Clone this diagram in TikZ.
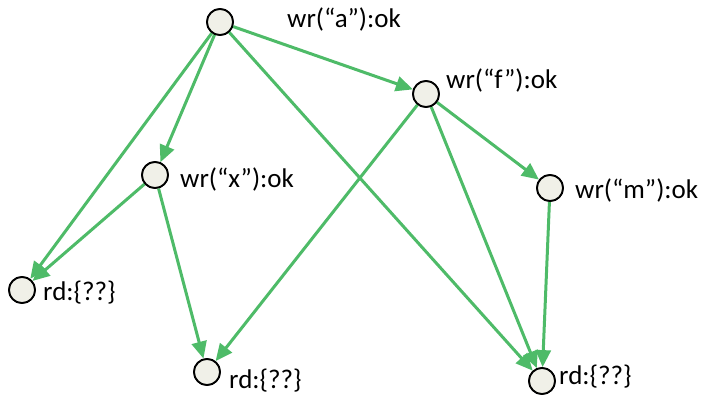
\documentclass[tikz,border=0pt]{standalone}
\usepackage{fontspec}
\setmainfont{Carlito}
\usetikzlibrary{arrows.meta}
\definecolor{edgegreen}{RGB}{78,187,104}
\definecolor{nodefill}{RGB}{240,240,232}
\tikzset{
  ev/.style={circle, draw=black, line width=1.8pt, fill=nodefill, minimum size=26pt, inner sep=0pt},
  lbl/.style={anchor=west, inner sep=0pt, font=\fontsize{27}{29}\selectfont},
  dep/.style={draw=edgegreen, line width=3pt, -{Triangle[length=17pt,width=15pt]}, shorten >=0pt},
}
\begin{document}
\begin{tikzpicture}[x=1pt,y=-1pt]
\useasboundingbox (0,0) rectangle (706,396);
\node[ev] (a) at (220,22) {};
\node[ev] (f) at (426,94) {};
\node[ev] (x) at (155,175) {};
\node[ev] (m) at (550,188) {};
\node[ev] (r1) at (22,290) {};
\node[ev] (r2) at (207,372) {};
\node[ev] (r3) at (542,381) {};
\node[lbl] (la) at (287,19) {wr(“a”):ok};
\node[lbl] (lf) at (446,80) {wr(“f”):ok};
\node[lbl] (lx) at (180,179) {wr(“x”):ok};
\node[lbl] (lm) at (575,190) {wr(“m”):ok};
\node[lbl] (l1) at (43,293) {rd:\{??\}};
\node[lbl] (l2) at (229,381) {rd:\{??\}};
\node[lbl] (l3) at (559,377) {rd:\{??\}};
\draw[dep] (a) -- (r1);
\draw[dep] (a) -- (x);
\draw[dep] (a) -- (f);
\draw[dep] (a) -- (r3);
\draw[dep] (f) -- (r2);
\draw[dep] (f) -- (r3);
\draw[dep] (f) -- (m);
\draw[dep] (x) -- (r1);
\draw[dep] (x) -- (r2);
\draw[dep] (m) -- (r3);
\foreach \n in {a,f,x,m,r1,r2,r3} \node[ev] at (\n) {};
\end{tikzpicture}
\end{document}
